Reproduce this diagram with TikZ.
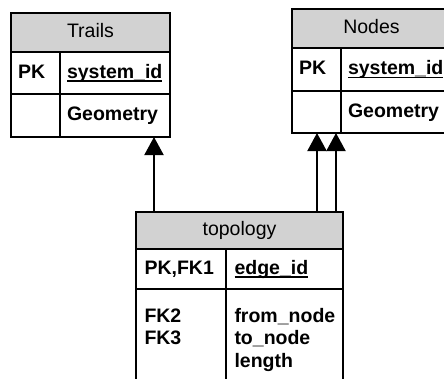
\documentclass[tikz,border=0pt]{standalone}
\usepackage{fontspec}
\setmainfont{Liberation Sans}
\usetikzlibrary{positioning, arrows.meta}
\definecolor{headgray}{RGB}{210,210,210}
\newcommand{\pkline}[1]{\leavevmode\setbox0\hbox{#1}\rlap{\vrule width\wd0 height -2.2pt depth 3.6pt}\box0}

\begin{document}
\begin{tikzpicture}[x=1pt, y=-1pt,
    every node/.style={font=\fontsize{19.5}{22.5}\selectfont, line width=1.2pt,
      outer sep=0pt, inner ysep=0pt, inner xsep=7pt},
    head/.style={draw, fill=headgray, align=center, text height=14.2pt, text depth=4.2pt},
    cell/.style={draw, align=left, font=\fontsize{19.5}{22.5}\selectfont\bfseries},
    one/.style={cell, text height=14.2pt, text depth=4.2pt},
    fk/.style={-{Triangle[width=19pt, length=18pt]}, line width=2pt}]
  \clip (0,0) rectangle (444,378);

  % Trails
  \node[head, text width=145pt, minimum height=39pt, anchor=north west] (trails) at (11,13) {Trails};
  \node[one, text width=35pt, minimum height=42pt, below=0pt of trails.south west, anchor=north west] (trailspk) {PK};
  \node[one, text width=96pt, minimum height=42pt, right=0pt of trailspk.north east, anchor=north west] (trailsid) {\pkline{system\_id}};
  \node[one, text width=35pt, minimum height=43pt, below=0pt of trailspk.south west, anchor=north west] (trailsnone) {};
  \node[one, text width=96pt, minimum height=43pt, below=0pt of trailsid.south west, anchor=north west] (trailsgeom) {Geometry};

  % Nodes
  \node[head, text width=145pt, minimum height=39pt, anchor=north west] (nodes) at (292,9) {Nodes};
  \node[one, text width=35pt, minimum height=43pt, below=0pt of nodes.south west, anchor=north west] (nodespk) {PK};
  \node[one, text width=96pt, minimum height=43pt, right=0pt of nodespk.north east, anchor=north west] (nodesid) {\pkline{system\_id}};
  \node[one, text width=35pt, minimum height=42pt, below=0pt of nodespk.south west, anchor=north west] (nodesnone) {};
  \node[one, text width=96pt, minimum height=42pt, below=0pt of nodesid.south west, anchor=north west] (nodesgeom) {Geometry};

  % topology
  \node[head, inner xsep=8.5pt, text width=190pt, minimum height=37pt, anchor=north west] (topo) at (136,212) {topology};
  \node[one, inner xsep=8.5pt, text width=73pt, minimum height=40pt, below=0pt of topo.south west, anchor=north west] (topopk) {PK,FK1};
  \node[one, inner xsep=8.5pt, text width=100pt, minimum height=40pt, right=0pt of topopk.north east, anchor=north west] (topoid) {\pkline{edge\_id}};
  \node[cell, inner xsep=8.5pt, inner ysep=17.3pt, text width=73pt, below=0pt of topopk.south west, anchor=north west] (topofk) {\strut FK2\\\strut FK3\\\strut};
  \node[cell, inner xsep=8.5pt, inner ysep=17.3pt, text width=100pt, below=0pt of topoid.south west, anchor=north west] (topoattr) {\strut from\_node\\\strut to\_node\\\strut length};

  \draw[fk] ([xshift=18pt]topo.north west) -- ([xshift=18pt]topo.north west |- trailsgeom.south);
  \draw[fk] ([xshift=-26pt]topo.north east) -- ([xshift=-26pt]topo.north east |- nodesnone.south);
  \draw[fk] ([xshift=-7pt]topo.north east) -- ([xshift=-7pt]topo.north east |- nodesnone.south);
\end{tikzpicture}
\end{document}
